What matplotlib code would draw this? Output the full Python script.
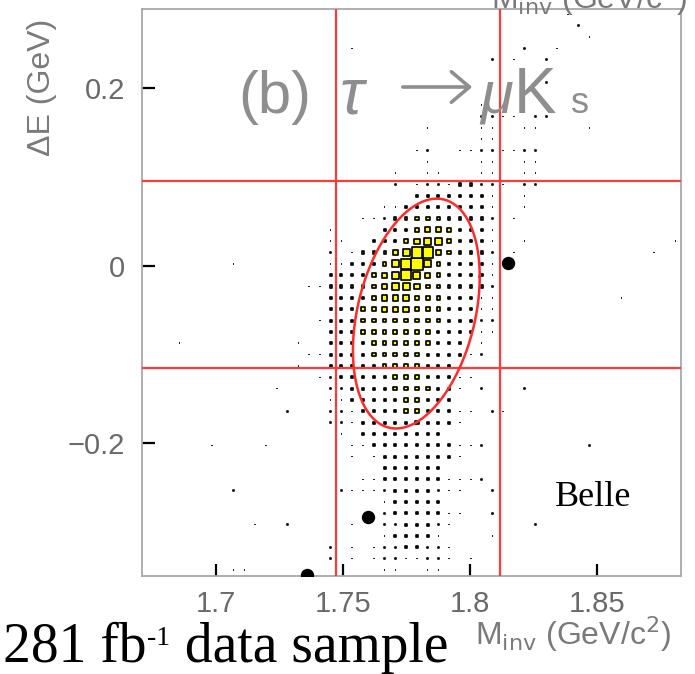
import numpy as np
import matplotlib
matplotlib.use("Agg")
import matplotlib.pyplot as plt

plt.rcParams["font.family"] = ["Liberation Sans", "DejaVu Sans"]

# axis ranges: M_inv (GeV/c^2) and Delta E (GeV), 50 x 50 bins
m_range = (1.671, 1.883)
de_range = (-0.35, 0.29)
n_bins = 50

# MC signal box histogram, first row = highest Delta E bin
# '.' empty bin, 1..8 relative bin content (groups of 10 bins)
mc_rows = [
    ".......... .......... .......... .........1 ..........",  # 49
    ".......... .......... .......... .......... 1.........",
    ".......... .......... .......... .......... .1........",
    ".......... .........1 .......... .....1..1. ..........",
    ".......... .......... .......... ..1.1..1.. ..........",  # 45
    ".......... .......... .......... .........1 ..........",
    ".......... .......... .......... .......1.. ..........",
    ".......... .......... .......... ...1...... ..........",
    ".......... .......... .......... .1........ ..........",
    ".......... .......... .......... .1111.11.. ..........",  # 40
    ".......... .......... ......1..1 .111111... .1........",
    ".......... .......... .........1 11111..... ..........",
    ".......... .......... .....11..1 1111111... ..........",
    ".......... .......... ....1.1..1 1111111... ..........",
    ".......... .......... ...1..1111 1111111... ..........",  # 35
    ".......... .......... ...1.11112 2111.11... ..........",
    ".......... .......... ....122222 221.11.... ..........",
    ".......... .......... ..11222222 221.11.... ..........",
    ".......... .......... 1112233322 221.1..... ..........",
    ".......... ......11.1 .122234432 221.....1. ..........",  # 30
    ".......... ......1111 1222345532 221.11.... ........11",
    ".......... .......1.1 2224577432 221.1..... .......1..",
    ".......11. .......112 2235785322 221....... ..........",
    ".......... .....11222 2345754322 221.1..... ..........",
    ".......... .....11222 2345543322 221....... ..........",  # 25
    ".......... ......1222 2344433322 2111...... ..1.1.....",
    ".......... .....11222 3344433322 211....... ..........",
    ".......... ......1222 3333333322 211....... ..........",
    ".......... .....11222 3333333222 211....... ..........",
    "...1...... ....111222 2333333222 11........ ..........",  # 20
    ".......... .....11222 2333332222 11........ ..........",
    ".......... ....111222 2233332221 .......... ..........",
    ".......... ......1122 2223332221 1......... ..........",
    ".......... ..1....112 2223333221 .1...1.... ..........",
    ".......... .......112 2222332221 .......... ..........",  # 15
    ".......... ...1...111 2222332221 1.11...... ..........",
    ".......... .......111 2222232221 .......... ..........",
    ".......... ........11 2222222211 ...1...... ...1......",
    "......1... .1.......1 1222222221 11........ .1........",
    ".......... .........1 .122222221 .......... ..........",  # 10
    ".......... ..1......1 1122222211 1..1...... ..........",
    ".......... .......... 1122222211 11........ ..........",
    "........1. ........11 1112222111 ..1....... ..........",
    ".......... .......... 1.12222211 1......... ..........",
    ".......... .......... ..12222211 ..1....... ..........",  # 5
    ".......... 1..1.....1 ..1122211. ......1... ..........",
    ".......... .......... .11222211. ..1....... ..........",
    ".......... .......1.1 .11122111. .......... ..........",
    ".......... .......1.1 .11111111. 1......... ..........",
    "......1.11 .......... 11111111.1 1......... ..........",  # 0
]

# signal box (M_inv, Delta E) and elliptical signal region
box_m = [1.7473, 1.812]
box_de = [-0.116, 0.096]
ell_center = (1.7789, -0.0541)
ell_a, ell_b, ell_c = 0.02494, 0.04174, 0.1228

# observed events
data_m = [1.8148, 1.7599, 1.7359]
data_de = [0.0034, -0.2839, -0.349]

m_ticks = [1.7, 1.75, 1.8, 1.85]
m_labels = ["1.7", "1.75", "1.8", "1.85"]
de_ticks = [-0.2, 0.0, 0.2]
de_labels = ["\u22120.2", "0", "0.2"]

grid = np.array([[0 if c == "." else int(c) for c in r.replace(" ", "")]
                 for r in mc_rows])[::-1]

W, H = 695, 674
fig = plt.figure(figsize=(W / 100, H / 100), dpi=100)
ax = fig.add_axes([142 / W, 1 - 575.7 / H, (681 - 142) / W, (575.7 - 8.7) / H])
ax.set_xlim(*m_range)
ax.set_ylim(*de_range)

# box histogram: square side proportional to bin content
bw_m = (m_range[1] - m_range[0]) / n_bins
bw_de = (de_range[1] - de_range[0]) / n_bins
jj, ii = np.nonzero(grid)
lev = grid[jj, ii]
edge_px = 1.7
side_px = np.maximum(1.6 * lev + 0.6 - edge_px, 0.5)
ax.scatter(m_range[0] + (ii + 0.5) * bw_m, de_range[0] + (jj + 0.5) * bw_de,
           s=(side_px * 0.72) ** 2, marker="s", facecolor="#ffff00",
           edgecolor="black", linewidth=edge_px * 0.72, zorder=2)

for m in box_m:
    ax.axvline(m, color="#ff3a3a", lw=1.6, zorder=3)
for d in box_de:
    ax.axhline(d, color="#ff3a3a", lw=1.6, zorder=3)

t = np.linspace(0, 2 * np.pi, 300)
ax.plot(ell_center[0] + ell_a * np.cos(t),
        ell_center[1] + ell_b * np.cos(t) + ell_c * np.sin(t),
        color="#ff2a2a", lw=1.8, zorder=4)

ax.plot(data_m, data_de, "o", color="black", ms=8.6, zorder=5)

ax.set_xticks(m_ticks)
ax.set_xticklabels(m_labels)
ax.set_yticks(de_ticks)
ax.set_yticklabels(de_labels)
ax.tick_params(direction="in", length=9, width=1.6, color="black",
               labelcolor="#6a6a6a", labelsize=21)
ax.tick_params(axis="x", pad=10)
ax.tick_params(axis="y", pad=12)
for sp in ax.spines.values():
    sp.set_color("#a8a8a8")
    sp.set_linewidth(1.3)

# process label "(b) tau -> mu K_s"
tcol = "#8e8e8e"
base = 1 - 113 / H
fig.text(238 / W, base, "(b)", fontsize=43, color=tcol, va="baseline")
fig.text(340 / W, base, "\u03c4", fontsize=46, color=tcol, va="baseline",
         fontstyle="italic")
fig.text(480 / W, base, "\u03bc", fontsize=43, color=tcol, va="baseline",
         fontstyle="italic")
fig.text(514 / W, base, "K", fontsize=46, color=tcol, va="baseline")
fig.text(571 / W, base, "s", fontsize=26, color=tcol, va="baseline")
ax.annotate("", xy=(475 / W, 1 - 87 / H), xytext=(400 / W, 1 - 87 / H),
            xycoords="figure fraction", textcoords="figure fraction",
            arrowprops=dict(arrowstyle="->,head_length=0.65,head_width=0.55",
                            lw=2.6, color=tcol, mutation_scale=20))

gray = "#7a7a7a"
fig.text(42 / W, 1 - 87 / H, "\u0394E (GeV)", rotation=90, fontsize=23,
         color=gray, ha="center", va="center")
xlab = r"M$_{\rm inv}$ (GeV/c$^{\rm 2}$)"
fig.text(573 / W, 1 - 645 / H, xlab, fontsize=23, color=gray,
         ha="center", va="baseline", math_fontfamily="dejavusans")
fig.text(589 / W, 1 - 9 / H, xlab, fontsize=23, color=gray,
         ha="center", va="baseline", math_fontfamily="dejavusans")

fig.text(555 / W, 1 - 506 / H, "Belle", fontsize=26, color="black",
         family="Liberation Serif", ha="left", va="baseline")

# "281 fb-1 data sample" with a small superscript
r = fig.canvas.get_renderer()
fb = 1 - 662 / H
t1 = fig.text(3 / W, fb, "281 fb", fontsize=40, color="black",
              family="Liberation Serif", va="baseline")
x1 = t1.get_window_extent(r).x1
t2 = fig.text((x1 + 1) / W, fb + 17 / H, "-1", fontsize=20, color="black",
              family="Liberation Serif", va="baseline")
x2 = t2.get_window_extent(r).x1
fig.text(x2 / W, fb, " data sample", fontsize=40, color="black",
         family="Liberation Serif", va="baseline")

fig.savefig("out.png", dpi=100)
